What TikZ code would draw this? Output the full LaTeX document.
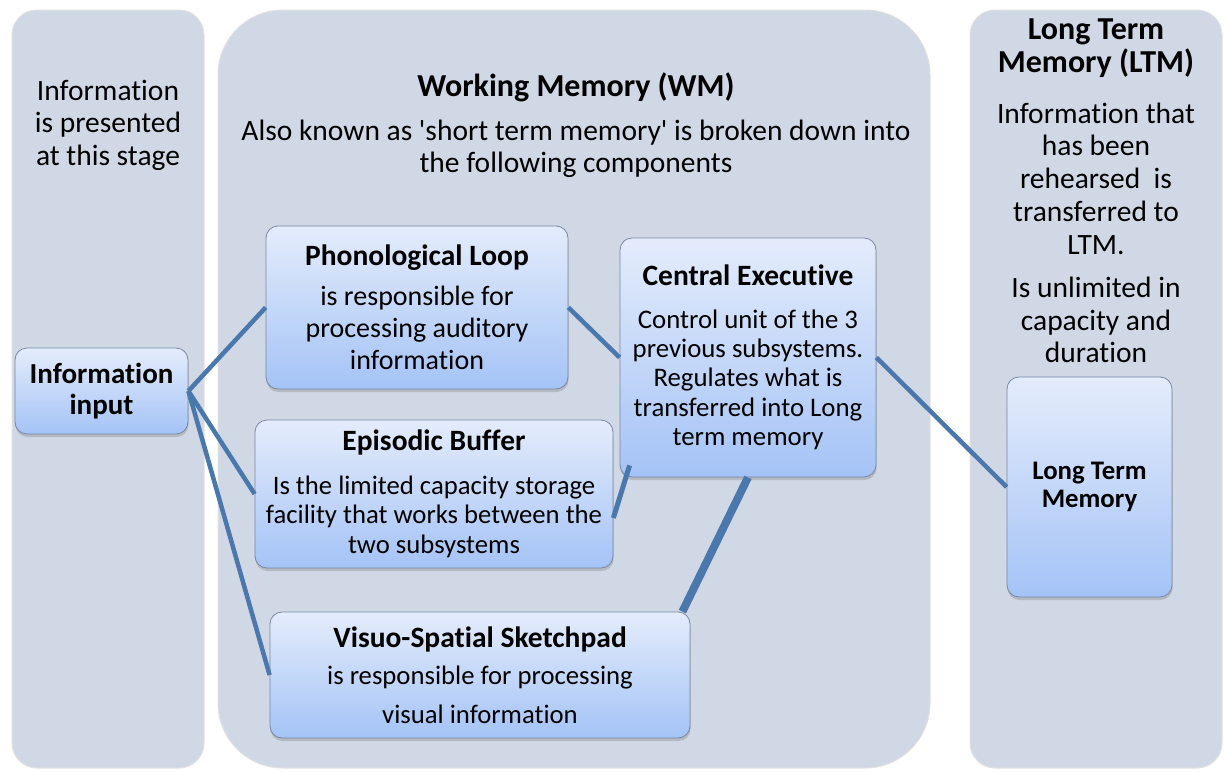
\documentclass[tikz,border=0pt]{standalone}
\usepackage{fontspec}
\setmainfont[Ligatures=NoCommon]{Carlito}
\usepackage{tikz}
\usetikzlibrary{shadows,calc,positioning}
\definecolor{panelfill}{RGB}{208,216,230}
\definecolor{boxtop}{RGB}{228,236,251}
\definecolor{boxbot}{RGB}{164,195,246}
\definecolor{boxline}{RGB}{120,136,162}
\definecolor{linkblue}{RGB}{74,120,172}

\begin{document}
\begin{tikzpicture}[x=1pt,y=-1pt,
  panel/.style={fill=panelfill,draw=black!12,line width=1pt},
  box/.style={rectangle,rounded corners=12pt,draw=boxline,line width=0.8pt,
    top color=boxtop,bottom color=boxbot,inner sep=0pt,align=center,
    drop shadow={opacity=0.35,shadow xshift=0.5pt,shadow yshift=-3pt}},
  link/.style={draw=linkblue,line width=4.5pt},
  ptext/.style={align=center,inner sep=0pt,font=\fontsize{29.5}{32.5}\selectfont},
  phead/.style={align=center,inner sep=0pt,font=\fontsize{32}{32.5}\selectfont\bfseries}]
\useasboundingbox (0,0) rectangle (1226,771);
% panels
\draw[panel,rounded corners=25pt] (12,10) rectangle (204,768);
\draw[panel,rounded corners=65pt] (218,10) rectangle (930,768);
\draw[panel,rounded corners=25pt] (970,10) rectangle (1222,768);
\node[ptext] (intro) at (108,125) {Information\\is presented\\at this stage};
\node[phead] (wmtitle) at (576,87) {Working Memory (WM)};
\node[ptext,font=\fontsize{29.5}{32}\selectfont] (wmtext) at (576,149)
  {Also known as \textquotesingle short term memory\textquotesingle\ is broken down into\\the following components};
\node[phead] (ltmtitle) at (1096,48) {Long Term\\Memory (LTM)};
\node[ptext,font=\fontsize{29.5}{32.75}\selectfont] (ltmtext) at (1096,178.5)
  {Information that\\has been\\rehearsed\ \ is\\transferred to\\LTM.};
\node[ptext] (ltmcap) at (1096,320) {Is unlimited in\\capacity and\\duration};
% boxes
\node[box,minimum width=173pt,minimum height=86pt,font=\fontsize{29}{31}\selectfont\bfseries]
  (info) at (101.5,391) {Information\\input};
\node[box,minimum width=302pt,minimum height=163pt,font=\fontsize{28}{32}\selectfont]
  (phono) at (417,307.5) {{\fontsize{29.5}{32}\selectfont\bfseries Phonological Loop}\\[8pt]
  is responsible for\\processing auditory\\information};
\node[box,minimum width=358pt,minimum height=148pt,font=\fontsize{26.7}{29.5}\selectfont]
  (eb) at (434,494) {{\fontsize{29.5}{32}\selectfont\bfseries Episodic Buffer}\\[14pt]
  Is the limited capacity storage\\facility that works between the\\two subsystems};
\node[box,minimum width=420pt,minimum height=126pt,font=\fontsize{26.7}{39}\selectfont]
  (visuo) at (480,675) {{\fontsize{29.5}{32}\selectfont\bfseries Visuo-Spatial Sketchpad}\\[-2pt]
  is responsible for processing\\visual information};
\node[box,minimum width=256pt,minimum height=239pt,font=\fontsize{26.8}{29.3}\selectfont]
  (ce) at (748,357.5) {{\fontsize{29.5}{32}\selectfont\bfseries Central Executive}\\[13pt]
  Control unit of the 3\\previous subsystems.\\Regulates what is\\transferred into Long\\term memory};
\node[box,minimum width=165pt,minimum height=220pt,font=\fontsize{26.8}{28}\selectfont\bfseries]
  (ltm) at (1089.5,487) {Long Term\\Memory};
% links
\draw[link] (info.east) -- (phono.west);
\draw[link] (info.east) -- (eb.west);
\draw[link] (info.east) -- (visuo.west);
\draw[link] (phono.east) -- (ce.west);
\draw[link,line width=5pt] ($(eb.east)+(0,24)$) -- ($(ce.south west)+(10,-12)$);
\draw[link,line width=8pt] ($(visuo.north east)+(-8,0)$) -- (ce.south);
\draw[link] (ce.east) -- (ltm.west);
\end{tikzpicture}
\end{document}
